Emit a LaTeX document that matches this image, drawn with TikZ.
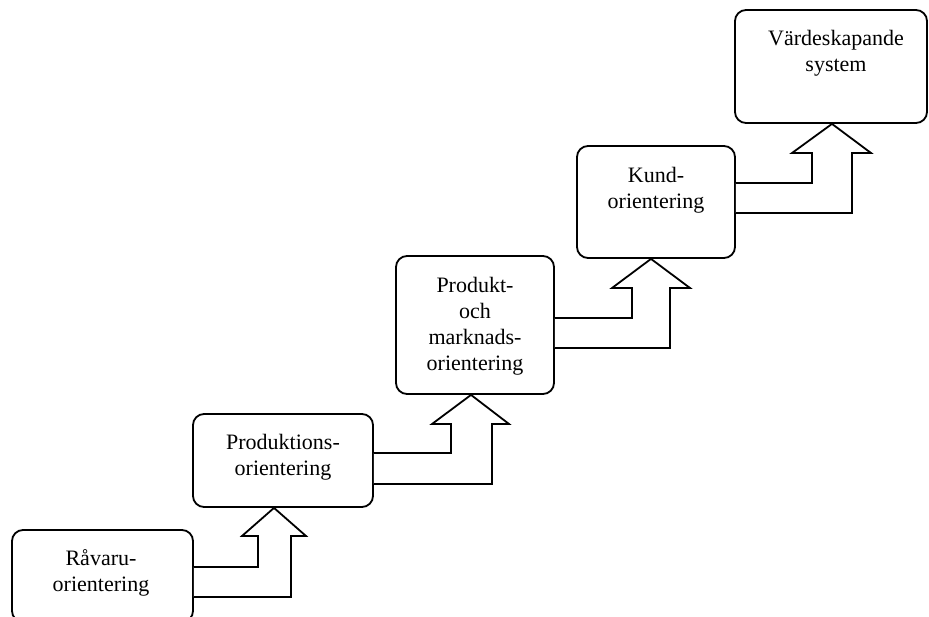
\documentclass[tikz,border=0pt]{standalone}
\usepackage{fontspec}
\setmainfont{Liberation Serif}
\begin{document}
\begin{tikzpicture}[x=1pt,y=-1pt,
  box/.style={draw=black, line width=1.8pt, rounded corners=11pt, fill=white, inner sep=0pt},
  lbl/.style={anchor=north, inner sep=0pt, align=center, font=\fontsize{22}{26}\selectfont},
  barrow/.style={draw=black, fill=white, line width=1.8pt, line join=miter}]
\useasboundingbox (0,0) rectangle (929,617);
\clip (0,0) rectangle (929,617);
% boxes
\node[box, minimum width=181pt, minimum height=92pt] (b1) at (102.5,576) {};
\node[box, minimum width=180pt, minimum height=93pt] (b2) at (283,460.5) {};
\node[box, minimum width=158pt, minimum height=138pt] (b3) at (475,325) {};
\node[box, minimum width=158pt, minimum height=112pt] (b4) at (656,202) {};
\node[box, minimum width=192pt, minimum height=113pt] (b5) at (831,66.5) {};
% texts
\node[lbl] (t1) at (101,547) {\strut Råvaru-\\orientering};
\node[lbl] (t2) at (283,431) {\strut Produktions-\\orientering};
\node[lbl] (t3) at (475,274) {\strut Produkt-\\och\\marknads-\\orientering};
\node[lbl] (t4) at (656,164) {\strut Kund-\\orientering};
\node[lbl] (t5) at (836,27) {\strut Värdeskapande\\system};
% bent block arrows
\draw[barrow] (b1.east |- 0,567) -- (258,567) -- (258,536) -- (242,536) -- (b2.south -| 274,0)
  -- (306,536) -- (291,536) -- (291,597) -- (b1.east |- 0,597);
\draw[barrow] (b2.east |- 0,453) -- (451,453) -- (451,424) -- (432,424) -- (b3.south -| 471,0)
  -- (509,424) -- (492,424) -- (492,484) -- (b2.east |- 0,484);
\draw[barrow] (b3.east |- 0,318) -- (632,318) -- (632,288) -- (612,288) -- (b4.south -| 651,0)
  -- (690,288) -- (670,288) -- (670,348) -- (b3.east |- 0,348);
\draw[barrow] (b4.east |- 0,183) -- (812,183) -- (812,153) -- (792,153) -- (b5.south -| 832,0)
  -- (871,153) -- (852,153) -- (852,213) -- (b4.east |- 0,213);
\end{tikzpicture}
\end{document}
